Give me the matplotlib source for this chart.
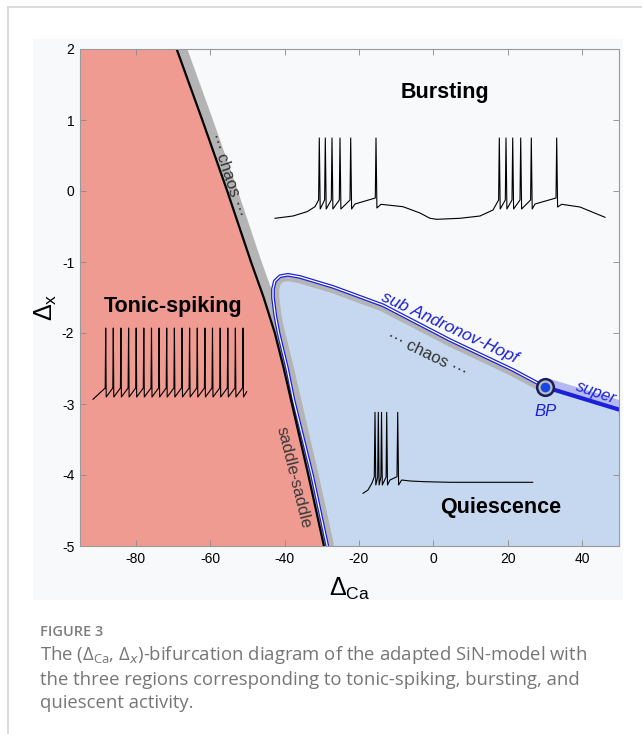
import numpy as np
import matplotlib.pyplot as plt
from matplotlib.patches import Polygon, Rectangle
from matplotlib.lines import Line2D

plt.rcParams['font.family'] = ['Liberation Sans', 'DejaVu Sans']
plt.rcParams['axes.unicode_minus'] = False

# axis ranges
ca_lim = (-95, 50)
x_lim = (-5, 2)

# tonic-spiking boundary (saddle-saddle / chaos line)
edge_ca = [-69.0, -62.1, -55.4, -49.0, -45.6, -42.6, -40.2, -38.0, -33.6, -29.4]
edge_x = [2.0, 1.0, 0.0, -1.0, -1.5, -2.0, -2.5, -3.0, -4.0, -5.0]

# Andronov-Hopf loop around the quiescent region, ending at BP
hopf_ca = [-28.5, -32.6, -37.6, -39.3, -40.5, -41.6, -42.5, -43.1, -43.1, -42.6,
           -41.2, -39.1, -35.9, -27.0, -13.5, 4.5, 21.4, 30.0]
hopf_x = [-5.0, -4.0, -2.94, -2.5, -2.24, -2.0, -1.75, -1.5, -1.38, -1.27,
          -1.20, -1.18, -1.21, -1.35, -1.61, -2.10, -2.52, -2.76]

# supercritical branch after the Bautin point
super_ca = [30.0, 50.0]
super_x = [-2.76, -3.08]
bp = (30.0, -2.76)

# sample voltage traces (t in ms, V in mV)
burst_t = [0, 18, 32, 40, 43.6,
           44.3, 45.2, 49.6, 50.3, 51.2, 56.3, 57, 57.9, 64.3, 65, 65.9, 75,
           75.7, 76.6, 80, 100.3, 101, 101.9, 106, 128, 145, 155, 161.7, 185,
           205, 218, 223.6,
           224.3, 225.2, 230.3, 231, 231.9, 237, 237.7, 238.6, 245, 245.7, 246.6,
           255.6, 256.3, 257.2, 260, 281, 281.7, 282.6, 286.7, 305, 330]
burst_v = [-65.3, -63, -58.7, -53.7, -47,
           15, -56, -47, 15, -56, -47, 15, -56, -47, 15, -56, -47,
           15, -56, -51, -45, 15, -55, -51.3, -53.7, -60, -65.3, -66.3, -65.3,
           -63, -57, -47,
           15, -56, -47, 15, -56, -47, 15, -56, -47, 15, -56,
           -47, 15, -56, -51, -45, 15, -54, -51.3, -54, -64.3]

tonic_spikes = [12.7, 20.3, 27.9, 35.6, 43.2, 50.8, 58.5, 66.1, 73.7, 81.4,
                89.0, 96.6, 104.3, 111.9, 119.5, 127.2, 134.8, 142.4, 150.0]
tonic_start = (0, -59.3)
tonic_end = (153.7, -51.7)
tonic_peak, tonic_thr, tonic_trough = 12, -48, -57

quiet_t = [0, 5, 9, 11.3, 12, 12.8, 14.7, 15.3, 16.1, 17.9, 18.5, 19.3, 23.1,
           23.7, 24.5, 27, 34, 34.7, 35.6, 38.7, 47, 62, 87, 169.7]
quiet_v = [-73.3, -70, -63, -56.7, 7.7, -65, -57, 7.7, -65, -57, 7.7, -65, -57,
           7.7, -65, -60, -56.7, 7.7, -65, -60, -61, -61.7, -62.3, -62.3]

red = '#f09b91'
light_blue = '#c6d8ef'
band_gray = '#b4b4b4'
hopf_blue = '#1b22d6'
panel_bg = '#f8f9fb'

fig = plt.figure(figsize=(6.42, 7.34), dpi=100)
W, H = 642, 734

def fig_box(x0, y0, x1, y1):
    # pixel box (top-left origin) -> figure fraction rect
    return [x0 / W, 1 - y1 / H, (x1 - x0) / W, (y1 - y0) / H]

# page frame and panel background
fig.add_artist(Line2D([8 / W, 1], [1 - 7 / H, 1 - 7 / H], color='#d6d6d6', lw=1.2))
fig.add_artist(Line2D([8 / W, 8 / W], [0, 1 - 7 / H], color='#d6d6d6', lw=1.2))
fig.add_artist(Rectangle((33 / W, 1 - 600 / H), 590 / W, 561 / H,
                         facecolor=panel_bg, edgecolor='none', zorder=0))

ax = fig.add_axes(fig_box(79.9, 49, 619.3, 546))
ax.set_facecolor(panel_bg)
ax.set_xlim(*ca_lim)
ax.set_ylim(*x_lim)

# tonic-spiking region
red_pts = [(ca_lim[0], x_lim[1])] + list(zip(edge_ca, edge_x)) + [(ca_lim[0], x_lim[0])]
ax.add_patch(Polygon(red_pts, closed=True, facecolor=red, edgecolor='none', zorder=1))

# quiescent region inside the Hopf loop
blue_pts = list(zip(hopf_ca, hopf_x)) + list(zip(super_ca, super_x))[1:] + \
    [(ca_lim[1], x_lim[0]), (hopf_ca[0], x_lim[0])]
blue_poly = Polygon(blue_pts, closed=True, facecolor=light_blue, edgecolor='none', zorder=1)
ax.add_patch(blue_poly)

# grey chaos bands: one-sided, clipped to the side they belong to
right_side = Polygon(list(zip(edge_ca, edge_x)) + [(60, -6), (60, 3)], closed=True,
                     transform=ax.transData)
g1, = ax.plot(edge_ca, edge_x, color=band_gray, lw=14.5, solid_capstyle='butt', zorder=2)
g1.set_clip_path(right_side)
g2, = ax.plot(hopf_ca, hopf_x, color=band_gray, lw=9, solid_joinstyle='round', zorder=2)
g2.set_clip_path(blue_poly)

# band above the supercritical branch
ax.fill_between(super_ca, super_x, np.array(super_x) + 0.14, color='#b4b9f2',
                lw=0, zorder=2)

# subcritical Hopf drawn as a double line
ax.plot(hopf_ca, hopf_x, color=hopf_blue, lw=2.7, solid_joinstyle='round', zorder=3)
ax.plot(hopf_ca, hopf_x, color='white', lw=0.9, solid_joinstyle='round', zorder=3.1)
ax.plot(super_ca, super_x, color=hopf_blue, lw=3.0, solid_capstyle='butt', zorder=3)

ax.plot(edge_ca, edge_x, color='black', lw=1.6, zorder=4)

ax.plot(*bp, 'o', ms=12, mfc='#bdbdbd', mec='#1c1c60', mew=1.8, zorder=5)
ax.plot(*bp, 'o', ms=7, mfc='#1748e6', mec='none', zorder=6)

# labels
bold = dict(fontweight='bold', fontsize=15.5, ha='center', va='center', zorder=7)
ax.text(3.1, 1.39, 'Bursting', **bold)
ax.text(-70.0, -1.63, 'Tonic-spiking', **bold)
ax.text(18.2, -4.46, 'Quiescence', **bold)

thin = dict(fontsize=12, ha='center', va='center', rotation_mode='anchor', zorder=7)
ax.text(-55.4, 0.22, '··· chaos ···', color='#333333', rotation=-72, **thin)
ax.text(-1.8, -2.30, '··· chaos ···', color='#333333', rotation=-26, **thin)
ax.text(-37.6, -4.03, 'saddle-saddle', color='#3a3a3a', rotation=-76, **thin)
ax.text(4.3, -1.93, 'sub Andronov-Hopf', color=hopf_blue, rotation=-25,
        style='italic', fontsize=12.5, ha='center', va='center',
        rotation_mode='anchor', zorder=7)
ax.text(43.7, -2.84, 'super', color=hopf_blue, rotation=-19, style='italic', **thin)
ax.text(30.3, -3.10, 'BP', color=hopf_blue, style='italic', **thin)

ax.set_xticks([-80, -60, -40, -20, 0, 20, 40])
ax.set_yticks([-5, -4, -3, -2, -1, 0, 1, 2])
ax.tick_params(direction='in', length=4, width=0.6, color='#8a8a8a', top=True,
               right=True, labelsize=10, pad=4)
for sp in ax.spines.values():
    sp.set_color('#9a9a9a')
    sp.set_linewidth(0.8)
    sp.set_zorder(8)

ax.set_xlabel(r'$\mathregular{Δ}_{\mathregular{Ca}}$', fontsize=18)
ax.xaxis.set_label_coords(0.5, -0.06)
ax.set_ylabel(r'$\mathregular{Δ}_{\mathregular{x}}$', fontsize=18)
ax.yaxis.set_label_coords(-0.038, 0.48)

# voltage trace insets
def trace_axes(box, tlim, vlim):
    a = fig.add_axes(fig_box(*box))
    a.set_xlim(*tlim)
    a.set_ylim(*vlim)
    a.axis('off')
    a.patch.set_alpha(0)
    return a

a1 = trace_axes((273, 134, 607, 222), (-2, 332), (-69, 19))
a1.plot(burst_t, burst_v, color='black', lw=0.8)

tonic_t = [tonic_start[0]]
tonic_v = [tonic_start[1]]
for s in tonic_spikes:
    tonic_t += [s - 0.5, s, s + 0.5]
    tonic_v += [tonic_thr, tonic_peak, tonic_trough]
tonic_t.append(tonic_end[0])
tonic_v.append(tonic_end[1])
a2 = trace_axes((90, 326, 250, 402), (-3, 157), (-62, 14))
a2.plot(tonic_t, tonic_v, color='black', lw=0.8)

a3 = trace_axes((360, 410, 535, 496), (-3, 172), (-76, 10))
a3.plot(quiet_t, quiet_v, color='black', lw=0.8)

# caption
fig.text(40 / W, 1 - 632 / H, 'FIGURE 3', fontfamily='Open Sans', fontweight='semibold',
         fontsize=10.5, color='#7d7d7d', va='center')
cap = dict(fontfamily='Open Sans', fontsize=13.3, color='#767676', va='center')
fig.text(40 / W, 1 - 655 / H,
         r'The ($\mathregular{Δ_{Ca}}$, $\mathregular{Δ}_{x}$)-bifurcation diagram of the adapted SiN-model with',
         **cap)
fig.text(40 / W, 1 - 680 / H,
         'the three regions corresponding to tonic-spiking, bursting, and', **cap)
fig.text(40 / W, 1 - 703 / H, 'quiescent activity.', **cap)

fig.savefig('out.png', dpi=100, facecolor='white')
